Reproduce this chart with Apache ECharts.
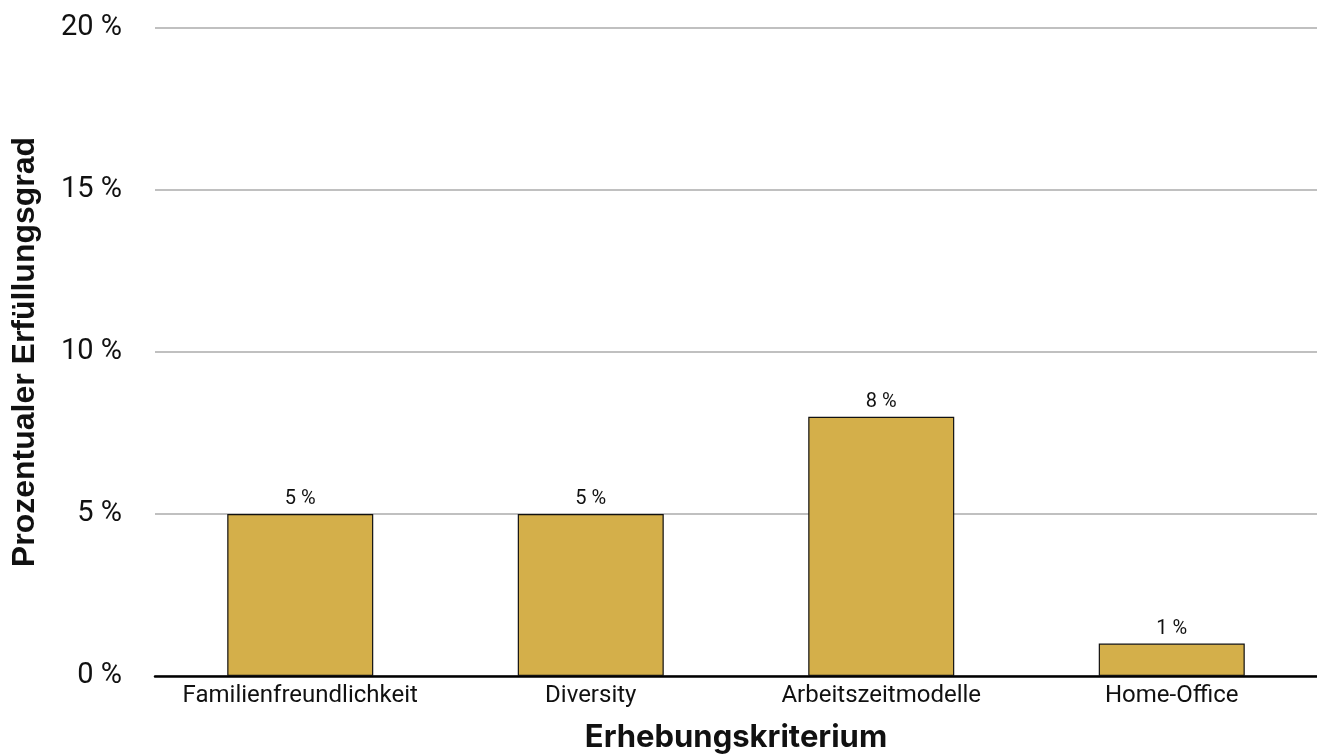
<!DOCTYPE html>
<html>
<head>
<meta charset="utf-8">
<script src="https://cdn.jsdelivr.net/npm/echarts@6/dist/echarts.min.js"></script>
<style>
  html, body { margin: 0; padding: 0; background: #ffffff; }
  #chart { width: 1317px; height: 755px; }
</style>
</head>
<body>
<div id="chart"></div>
<script>
// Kriterien und Erfüllungsgrad in Prozent
const categories = ['Familienfreundlichkeit', 'Diversity', 'Arbeitszeitmodelle', 'Home-Office'];
const values = [5, 5, 8, 1];
const yTicks = [0, 5, 10, 15, 20];

const chart = echarts.init(document.getElementById('chart'), null, { renderer: 'canvas' });

chart.setOption({
  animation: false,
  grid: { left: 155, right: 0, top: 28, bottom: 79, containLabel: false, outerBoundsMode: 'none' },
  xAxis: {
    type: 'category',
    data: categories,
    name: 'Erhebungskriterium',
    nameLocation: 'middle',
    nameGap: 46,
    nameTextStyle: { fontFamily: 'Inter', fontWeight: 'bold', fontSize: 31, color: '#111' },
    axisLine: { lineStyle: { color: '#000', width: 2.5 } },
    axisTick: { show: false },
    axisLabel: { interval: 0, fontFamily: 'Roboto', fontSize: 24, color: '#111', margin: 8 }
  },
  yAxis: {
    type: 'value',
    min: yTicks[0],
    max: yTicks[yTicks.length - 1],
    interval: 5,
    name: 'Prozentualer Erfüllungsgrad',
    nameLocation: 'middle',
    nameGap: 114,
    nameTextStyle: { fontFamily: 'Liberation Sans', fontWeight: 'bold', fontSize: 32, color: '#111' },
    axisLine: { show: false },
    axisTick: { show: false },
    axisLabel: { fontFamily: 'Roboto', fontSize: 29, color: '#111', margin: 33, formatter: v => v + ' %' },
    splitLine: { lineStyle: { color: '#c0c0c0', width: 2 } }
  },
  series: [{
    type: 'bar',
    data: values,
    barWidth: 146,
    itemStyle: { color: '#D4AF4A', borderColor: '#111', borderWidth: 1.2 },
    label: {
      show: true,
      position: 'top',
      distance: 5,
      fontFamily: 'Roboto',
      fontSize: 20,
      color: '#111',
      formatter: p => p.value + ' %'
    }
  }]
});
</script>
</body>
</html>
